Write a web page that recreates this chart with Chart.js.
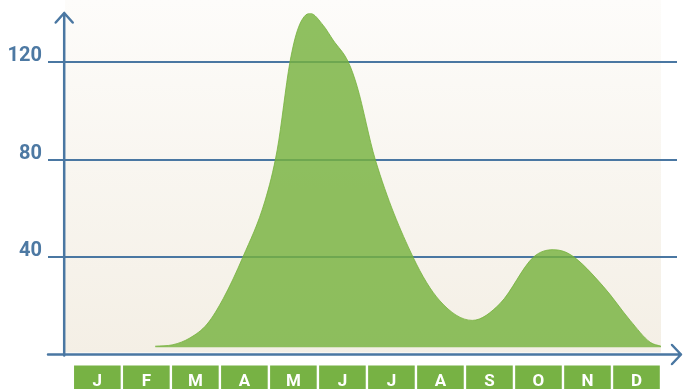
<!DOCTYPE html>
<html>
<head>
<meta charset="utf-8">
<script src="https://cdn.jsdelivr.net/npm/chart.js@4/dist/chart.umd.min.js"></script>
<style>
    body { margin: 0; background: #ffffff; }
    .chart-container { width: 683px; height: 389px; }
</style>
</head>
<body>
<div class="chart-container">
    <canvas id="seasonChart"></canvas>
</div>
<script>
// month boxes under the axis
const monthLabels = ['J', 'F', 'M', 'A', 'M', 'J', 'J', 'A', 'S', 'O', 'N', 'D'];
const yTicks = [40, 80, 120];

// curve: position in months (0 = J) and value
const curveMonths = [1.18, 1.54, 1.89, 2.24, 2.57, 2.97, 3.42, 3.67, 3.93, 4.1, 4.34, 4.61, 4.81, 5.12, 5.3, 5.67, 6.44, 6.99, 7.65, 8.22, 8.9, 9.3, 9.65, 10.32, 10.87, 11.28, 11.5];
const curveValues = [3.4, 4, 6.8, 12.5, 23, 40, 63, 84, 120, 134, 140, 135, 129, 120, 110, 80, 40, 22, 14, 21, 40, 43, 41, 28, 14, 5, 3.4];

const blue = '#4a77a2';
const boxGreen = '#77b244';

const decorPlugin = {
    id: 'decor',
    beforeDatasetsDraw(chart) {
        const ctx = chart.ctx;
        const xs = chart.scales.x;
        const ys = chart.scales.y;
        ctx.save();
        // background
        const grad = ctx.createLinearGradient(0, 0, 0, ys.bottom);
        grad.addColorStop(0, '#fdfcfa');
        grad.addColorStop(1, '#f4efe5');
        ctx.fillStyle = grad;
        ctx.fillRect(xs.left, 0, xs.right - xs.left, ys.bottom - 2);
        // grid lines + labels
        ctx.strokeStyle = blue;
        ctx.lineWidth = 2;
        ctx.fillStyle = '#4d79a3';
        ctx.font = 'bold 20px Roboto';
        ctx.textAlign = 'right';
        ctx.textBaseline = 'alphabetic';
        yTicks.forEach(v => {
            const py = Math.round(ys.getPixelForValue(v));
            ctx.beginPath();
            ctx.moveTo(48, py);
            ctx.lineTo(677, py);
            ctx.stroke();
            ctx.fillText(String(v), 42, py - 1);
        });
        ctx.restore();
    },
    afterDatasetsDraw(chart) {
        const ctx = chart.ctx;
        const xs = chart.scales.x;
        const ys = chart.scales.y;
        ctx.save();
        ctx.strokeStyle = blue;
        ctx.lineWidth = 2.5;
        ctx.lineCap = 'round';
        ctx.lineJoin = 'round';
        const ax = xs.left - 0.8;
        const ay = ys.bottom;
        // y axis with arrow
        ctx.beginPath();
        ctx.moveTo(ax, ay + 1);
        ctx.lineTo(ax, 13);
        ctx.moveTo(ax - 8.5, 22.5);
        ctx.lineTo(ax, 13);
        ctx.lineTo(ax + 8.5, 22.5);
        ctx.stroke();
        // x axis with arrow
        ctx.beginPath();
        ctx.moveTo(48, ay);
        ctx.lineTo(681, ay);
        ctx.moveTo(672, ay - 9.5);
        ctx.lineTo(681, ay);
        ctx.lineTo(672, ay + 9.5);
        ctx.stroke();
        // month boxes
        const step = xs.getPixelForValue(1) - xs.getPixelForValue(0);
        const w = step - 2.4;
        ctx.font = 'bold 17px Roboto';
        ctx.textAlign = 'center';
        ctx.textBaseline = 'alphabetic';
        monthLabels.forEach((m, i) => {
            const cx = xs.getPixelForValue(i);
            ctx.fillStyle = boxGreen;
            ctx.fillRect(cx - w / 2, 365.5, w, 24);
            ctx.fillStyle = '#ffffff';
            ctx.fillText(m, cx, 386);
        });
        ctx.restore();
    }
};

const ctx = document.getElementById('seasonChart').getContext('2d');
new Chart(ctx, {
    type: 'line',
    data: {
        datasets: [{
            data: curveMonths.map((m, i) => ({ x: m, y: curveValues[i] })),
            backgroundColor: 'rgba(118, 178, 62, 0.82)',
            borderColor: 'rgba(118, 178, 62, 0.82)',
            borderWidth: 1,
            pointRadius: 0,
            cubicInterpolationMode: 'monotone',
            fill: { value: 3 }
        }]
    },
    options: {
        responsive: true,
        maintainAspectRatio: false,
        animation: false,
        layout: {
            padding: { left: 65, right: 22, top: 13.25, bottom: 34.5 }
        },
        plugins: {
            legend: { display: false },
            tooltip: { enabled: false }
        },
        scales: {
            x: { type: 'linear', min: -0.66, max: 11.5, display: false },
            y: { min: 0, max: 140, display: false }
        }
    },
    plugins: [decorPlugin]
});
</script>
</body>
</html>
